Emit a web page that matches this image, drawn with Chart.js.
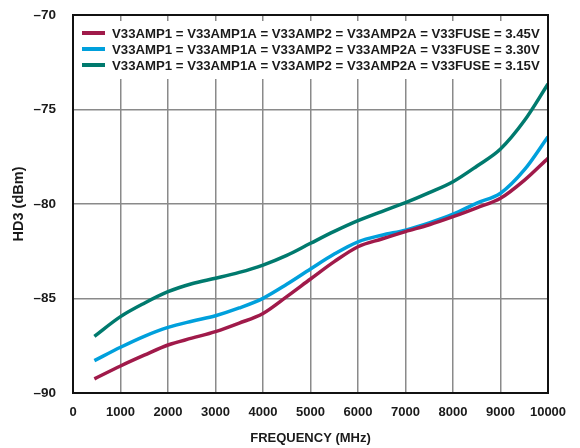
<!DOCTYPE html>
<html>
<head>
<meta charset="utf-8">
<script src="https://cdn.jsdelivr.net/npm/chart.js@4"></script>
<style>
  html, body { margin: 0; padding: 0; background: #fff; }
</style>
</head>
<body>
<canvas id="myChart" width="580" height="448"></canvas>
<script>

// frequency points (MHz)
var freq = [450, 1000, 1500, 2000, 2500, 3000, 3500, 4000, 4500, 5000, 5500, 6000, 6500, 7000, 7500, 8000, 8500, 9000, 9500, 10000];

// HD3 (dBm) for each supply voltage
var hd3_345 = [-89.25, -88.57, -88.0, -87.46, -87.1, -86.75, -86.3, -85.79, -84.9, -83.97, -83.05, -82.26, -81.85, -81.46, -81.1, -80.67, -80.2, -79.7, -78.75, -77.58];
var hd3_330 = [-88.29, -87.58, -87.0, -86.53, -86.2, -85.91, -85.5, -84.99, -84.25, -83.44, -82.65, -82.0, -81.65, -81.38, -81.0, -80.54, -79.95, -79.43, -78.2, -76.44];
var hd3_315 = [-87.0, -85.96, -85.25, -84.64, -84.22, -83.93, -83.62, -83.23, -82.72, -82.08, -81.45, -80.88, -80.4, -79.93, -79.4, -78.82, -78.0, -77.09, -75.6, -73.65];

var labels = [
    'V33AMP1 = V33AMP1A = V33AMP2 = V33AMP2A = V33FUSE = 3.45V',
    'V33AMP1 = V33AMP1A = V33AMP2 = V33AMP2A = V33FUSE = 3.30V',
    'V33AMP1 = V33AMP1A = V33AMP2 = V33AMP2A = V33FUSE = 3.15V'
];
var colors = ['#a01a4a', '#00a0dc', '#007a6e'];

var FONT = '"Liberation Sans", Arial, sans-serif';

function pts(vals) {
    return freq.map(function (f, i) { return { x: f, y: vals[i] }; });
}

// legend drawn inside the plot, on a white box over the grid
var legendBox = {
    id: 'legendBox',
    beforeDatasetsDraw: function (chart) {
        var ctx = chart.ctx, a = chart.chartArea;
        ctx.save();
        ctx.fillStyle = '#fff';
        ctx.fillRect(a.left + 3, a.top + 6, a.width - 6, 58);
        ctx.font = 'bold 13.2px ' + FONT;
        ctx.textBaseline = 'middle';
        ctx.textAlign = 'left';
        chart.data.datasets.forEach(function (ds, i) {
            var y = a.top + 18 + i * 16;
            ctx.strokeStyle = ds.borderColor;
            ctx.lineWidth = 4;
            ctx.beginPath();
            ctx.moveTo(a.left + 9, y);
            ctx.lineTo(a.left + 32, y);
            ctx.stroke();
            ctx.fillStyle = '#1a1a1a';
            ctx.fillText(ds.label, a.left + 39, y + 1);
        });
        ctx.restore();
    }
};

// black frame round the plot
var frame = {
    id: 'frame',
    afterDraw: function (chart) {
        var ctx = chart.ctx, a = chart.chartArea;
        ctx.save();
        ctx.strokeStyle = '#111';
        ctx.lineWidth = 2;
        ctx.strokeRect(a.left, a.top, a.width, a.height);
        ctx.restore();
    }
};

var ctx = document.getElementById('myChart').getContext('2d');

var data = {
    datasets: [hd3_345, hd3_330, hd3_315].map(function (v, i) {
        return {
            label: labels[i],
            data: pts(v),
            borderColor: colors[i],
            backgroundColor: colors[i],
            borderWidth: 3.5,
            pointRadius: 0,
            cubicInterpolationMode: 'monotone',
            fill: false
        };
    })
};

var options = {
    responsive: false,
    animation: false,
    layout: { padding: { left: 0, right: 32, top: 15, bottom: 0 } },
    plugins: {
        legend: { display: false },
        tooltip: { enabled: false }
    },
    scales: {
        x: {
            type: 'linear',
            min: 0,
            max: 10000,
            ticks: {
                stepSize: 1000,
                padding: 12,
                color: '#1a1a1a',
                font: { family: FONT, size: 13, weight: 'bold' },
                maxRotation: 0,
                callback: function (v) { return String(v); }
            },
            grid: { color: '#8a8a8a', lineWidth: 1.5, drawTicks: false },
            border: { display: false },
            title: {
                display: true,
                text: 'FREQUENCY (MHz)',
                color: '#1a1a1a',
                font: { family: FONT, size: 13, weight: 'bold' },
                padding: { top: 0, bottom: 2 }
            },
            afterFit: function (s) { s.height = 55; }
        },
        y: {
            min: -90,
            max: -70,
            ticks: {
                stepSize: 5,
                padding: 17,
                color: '#1a1a1a',
                font: { family: FONT, size: 13.5, weight: 'bold' },
                callback: function (v) { return v < 0 ? '\u2013' + Math.abs(v) : String(v); }
            },
            grid: { color: '#8a8a8a', lineWidth: 1.5, drawTicks: false },
            border: { display: false },
            title: {
                display: true,
                text: 'HD3 (dBm)',
                color: '#1a1a1a',
                font: { family: FONT, size: 14.5, weight: 'bold' },
                padding: { top: 10, bottom: 0 }
            },
            afterFit: function (s) {
                s.width = 73;
                s.paddingTop = 0;
                s.paddingBottom = 0;
            }
        }
    }
};

var myChart = new Chart(ctx, {
    type: 'line',
    data: data,
    options: options,
    plugins: [legendBox, frame]
});
</script>
</body>
</html>
